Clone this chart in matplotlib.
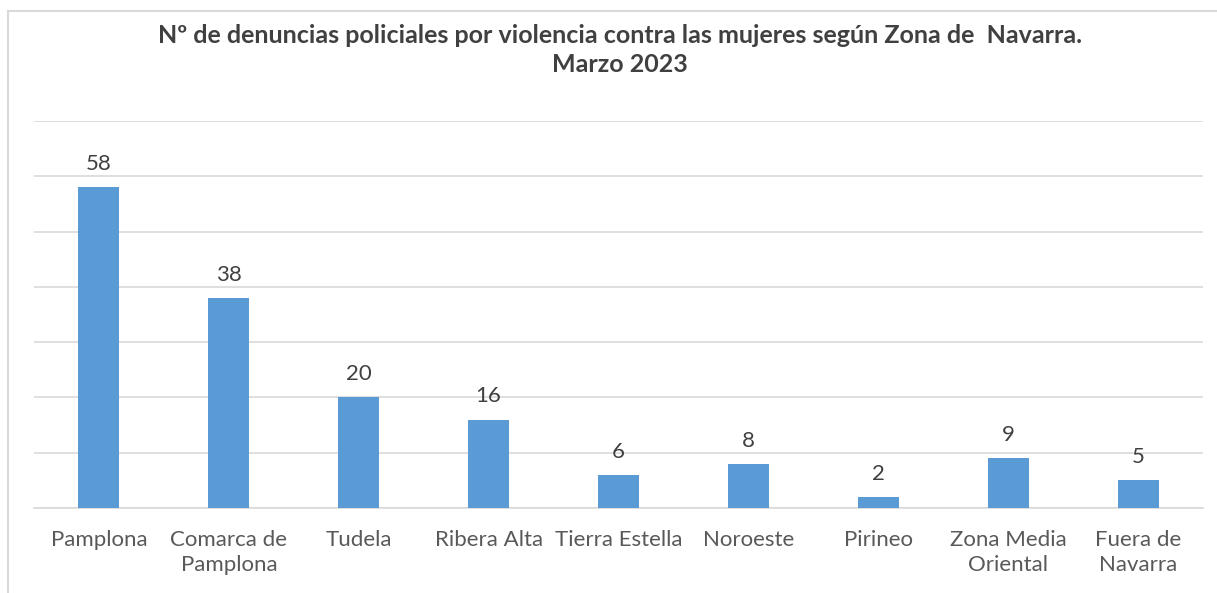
import matplotlib.pyplot as plt
from matplotlib.patches import Rectangle

zonas = ["Pamplona", "Comarca de\nPamplona", "Tudela", "Ribera Alta", "Tierra Estella",
         "Noroeste", "Pirineo", "Zona Media\nOriental", "Fuera de\nNavarra"]
denuncias = [58, 38, 20, 16, 6, 8, 2, 9, 5]

plt.rcParams['font.family'] = ['Lato', 'DejaVu Sans']

fig = plt.figure(figsize=(12.17, 5.93), dpi=100)
ax = fig.add_axes([34 / 1217, 1 - 508 / 593, (1203 - 34) / 1217, (508 - 121) / 593])

# marco gris del grafico (cortado a la derecha y abajo)
fig.patches.append(Rectangle((8 / 1217, -0.05), 1.2, 1 - 11 / 593 + 0.05,
                             transform=fig.transFigure, fill=False,
                             edgecolor='#D9D9D9', linewidth=1.5))

x = range(len(zonas))
bars = ax.bar(x, denuncias, width=0.315, color='#5B9BD5', zorder=3)
for b, v in zip(bars, denuncias):
    ax.text(b.get_x() + b.get_width() / 2, v + 2.4, str(v), ha='center', va='bottom',
            fontsize=16, color='#404040')

ax.set_xlim(-0.5, len(zonas) - 0.5)
ax.set_ylim(0, 70)
ax.set_yticks(range(0, 71, 10))
ax.set_yticklabels([])
ax.tick_params(axis='y', length=0)
ax.tick_params(axis='x', length=0, pad=16, labelsize=16, labelcolor='#595959')
ax.set_xticks(list(x))
ax.set_xticklabels(zonas, linespacing=1.3, va='top')
ax.grid(axis='y', color='#D9D9D9', linewidth=1.2, zorder=0)
for s in ['top', 'right', 'left']:
    ax.spines[s].set_visible(False)
ax.spines['bottom'].set_color('#D9D9D9')
ax.spines['bottom'].set_linewidth(1.2)

fig.text(620 / 1217, 1 - 50 / 593, "Nº de denuncias policiales por violencia contra las mujeres según Zona de  Navarra.\nMarzo 2023",
         ha='center', va='center', fontsize=18, fontweight='bold', color='#404040', linespacing=1.3)

fig.savefig('out.png', dpi=100)
